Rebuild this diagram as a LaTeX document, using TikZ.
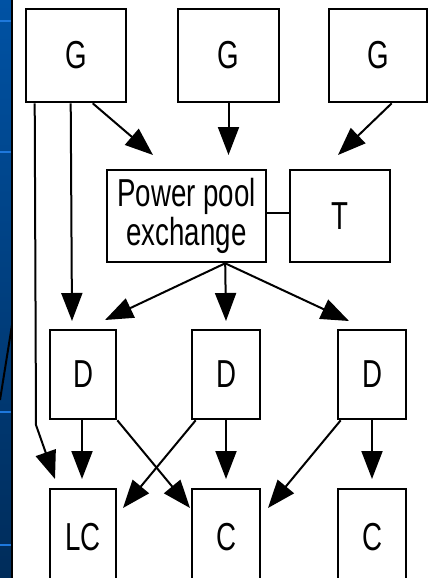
\documentclass[tikz,border=0pt]{standalone}
\usepackage{fontspec}
\setmainfont{Liberation Sans}[FakeStretch=0.71]
\usetikzlibrary{arrows.meta}
\definecolor{stripTop}{RGB}{0,82,164}
\definecolor{stripBot}{RGB}{0,44,90}
\definecolor{stripMark}{RGB}{30,120,220}
\tikzset{
  box/.style={draw=black, line width=2.6pt, inner sep=0pt, font=\fontsize{39}{39}\selectfont, align=center},
  link/.style={line width=2pt, -{Triangle[length=28pt,width=21pt]}},
  plain/.style={line width=2pt}
}
\begin{document}
\begin{tikzpicture}[x=1pt,y=-1pt]
\useasboundingbox (0,0) rectangle (428,578);
\clip (0,0) rectangle (428,578);
\fill[white] (0,0) rectangle (428,578);
% left strip
\shade[top color=stripTop, bottom color=stripBot] (0,0) rectangle (11.5,578);
\foreach \yy in {21,152,412,545} \draw[stripMark, line width=2.5pt] (0,\yy) -- (11.5,\yy);
\draw[black, line width=2pt] (0,400) -- (12,325);
\draw[black, line width=2pt] (12,0) -- (12,578);
% boxes
\node[box, minimum width=100pt, minimum height=93pt] (G1) at (76,55.5) {G};
\node[box, minimum width=101pt, minimum height=93pt] (G2) at (228.5,55.5) {G};
\node[box, minimum width=98pt, minimum height=93pt] (G3) at (378,55.5) {G};
\node[box, minimum width=159pt, minimum height=92pt] (PP) at (186.5,216) {Power pool\\exchange};
\node[box, minimum width=100pt, minimum height=92pt] (T) at (340,216) {T};
\node[box, minimum width=66pt, minimum height=89pt] (D1) at (83,374.5) {D};
\node[box, minimum width=68pt, minimum height=89pt] (D2) at (226,374.5) {D};
\node[box, minimum width=68pt, minimum height=89pt] (D3) at (372,374.5) {D};
\node[box, minimum width=66pt, minimum height=96pt] (LC) at (83,537) {LC};
\node[box, minimum width=68pt, minimum height=96pt] (C1) at (226,537) {C};
\node[box, minimum width=68pt, minimum height=96pt] (C2) at (372,537) {C};
% arrow tip coordinates
\coordinate (bend) at (36,425);
\coordinate (tLC1) at (55,479);
\coordinate (tD1a) at (72,321);
\coordinate (tPP1) at (153,155);
\coordinate (tPP2) at (228.5,155);
\coordinate (tPP3) at (338,155);
\coordinate (tD1b) at (105,320);
\coordinate (tD2) at (226,321);
\coordinate (tD3) at (349,321);
\coordinate (tLC2) at (82,479);
\coordinate (tC1a) at (190,508);
\coordinate (tLC3) at (123,508);
\coordinate (tC1b) at (226,479);
\coordinate (tC1c) at (268,508);
\coordinate (tC2) at (372,479);
% connectors
\draw[link] ([xshift=10pt]G1.south west) -- (bend) -- (tLC1);
\draw[link] ([xshift=46pt]G1.south west) -- (tD1a);
\draw[link] ([xshift=68pt]G1.south west) -- (tPP1);
\draw[link] (G2.south) -- (tPP2);
\draw[link] ([xshift=64pt]G3.south west) -- (tPP3);
\draw[plain] ([yshift=3pt]PP.east) -- ([yshift=3pt]T.west);
\draw[link] ([xshift=119.5pt]PP.south west) -- (tD1b);
\draw[link] ([xshift=119.5pt]PP.south west) -- (tD2);
\draw[link] ([xshift=119.5pt]PP.south west) -- (tD3);
\draw[link] ([xshift=-1pt]D1.south) -- (tLC2);
\draw[link] (D1.south east) -- (tC1a);
\draw[link] ([xshift=5pt]D2.south west) -- (tLC3);
\draw[link] (D2.south) -- (tC1b);
\draw[link] ([xshift=4pt]D3.south west) -- (tC1c);
\draw[link] (D3.south) -- (tC2);
\end{tikzpicture}
\end{document}
